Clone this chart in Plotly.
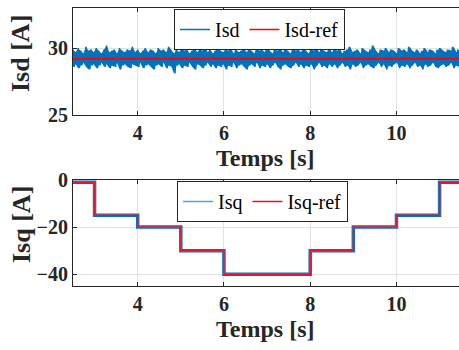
import numpy as np
import plotly.graph_objects as go

# Isd : envelope values (upper / lower peaks), A
isd_hi = [29.9, 29.7, 30.0, 29.8, 29.6, 30.1, 29.8, 29.9, 29.7, 30.0,
          29.8, 29.6, 29.9, 30.2, 29.7, 29.8, 29.9, 29.6, 30.0, 29.8,
          29.7, 29.9, 29.8, 30.1, 29.7, 29.9, 29.6, 29.8, 30.0, 29.7,
          29.9, 29.8, 29.6, 30.0, 29.8, 29.9, 29.7, 30.1, 29.8, 29.6,
          29.9, 29.7, 30.0, 29.8, 29.9, 29.6, 29.8, 30.0, 29.7, 29.9,
          29.8, 30.1, 29.7, 29.9, 29.6, 29.8, 30.2, 29.8, 29.7, 29.9,
          29.8, 30.0, 29.6, 29.9, 29.7, 29.8, 30.0, 29.7, 29.9, 29.8,
          29.6, 30.0, 29.8, 29.9, 29.7, 30.1, 29.8, 29.6, 29.9, 29.8,
          30.0, 29.7, 29.9, 29.8, 29.6, 30.0, 29.8, 29.9, 29.7, 30.0,
          29.8, 29.6, 29.9, 29.8, 30.1, 29.7, 29.9, 29.8, 29.7, 30.0,
          29.7, 29.9, 29.8, 30.0, 29.6, 29.8, 29.9, 30.1, 29.7, 29.8,
          29.9, 29.6, 30.0, 29.8, 29.7, 29.9, 30.2, 29.8, 29.6, 29.9,
          29.8, 30.0, 29.7, 29.9, 29.8, 29.6, 30.0, 29.8, 29.9, 29.7,
          30.1, 29.8, 29.7, 29.9, 29.6, 29.8, 30.0, 29.7, 29.9, 29.8,
          29.6, 29.9, 30.0, 29.8, 29.7, 29.9, 29.8, 30.1, 29.7, 29.9]
isd_lo = [28.6, 28.8, 28.5, 28.7, 28.9, 28.6, 28.4, 28.7, 28.8, 28.5,
          28.7, 28.9, 28.6, 28.8, 28.5, 28.7, 28.6, 28.9, 28.4, 28.7,
          28.8, 28.6, 28.5, 28.8, 28.7, 28.6, 28.9, 28.5, 28.7, 28.8,
          28.6, 28.4, 28.7, 28.8, 28.6, 28.9, 28.5, 28.7, 28.6, 28.1,
          28.7, 28.8, 28.5, 28.7, 28.6, 28.9, 28.6, 28.4, 28.8, 28.7,
          28.5, 28.7, 28.9, 28.6, 28.8, 28.5, 28.7, 28.6, 28.8, 28.4,
          28.7, 28.6, 28.9, 28.5, 28.7, 28.8, 28.6, 28.4, 28.7, 28.8,
          28.6, 28.9, 28.5, 28.7, 28.6, 28.8, 28.5, 28.7, 28.9, 28.6,
          28.4, 28.7, 28.8, 28.6, 28.5, 28.7, 28.9, 28.6, 28.8, 28.5,
          28.7, 28.6, 28.8, 28.4, 28.7, 28.9, 28.6, 28.7, 28.5, 28.8,
          28.6, 28.8, 28.5, 28.7, 28.9, 28.6, 28.7, 28.4, 28.8, 28.6,
          28.7, 28.9, 28.5, 28.7, 28.8, 28.6, 28.5, 28.7, 28.9, 28.6,
          28.8, 28.4, 28.7, 28.6, 28.8, 28.9, 28.5, 28.7, 28.6, 28.8,
          28.5, 28.7, 28.9, 28.6, 28.7, 28.4, 28.8, 28.6, 28.7, 28.9,
          28.6, 28.5, 28.7, 28.8, 28.6, 28.7, 28.9, 28.5, 28.7, 28.6]
isd_ref = 29.2

# Isq : reference steps
isq_t = [2.5, 3, 4, 5, 6, 8, 9, 10, 11, 11.45]
isq_ref = [-1, -15, -20, -30, -40, -30, -20, -15, -1, -1]

t_start, t_end = 2.5, 11.45

blue = "#0072BD"
red = "#FF0000"
dark = "#262626"
serif = "Liberation Serif"

# noisy Isd: alternate upper / lower peaks
isd = []
for hi, lo in zip(isd_hi, isd_lo):
    isd += [hi, lo]
t_isd = np.linspace(t_start, t_end, len(isd))
t_env = np.linspace(t_start, t_end, len(isd_hi))

fig = go.Figure()
# solid core of the noise band
fig.add_trace(go.Scatter(x=t_env, y=isd_lo, mode="lines", line=dict(width=0),
                         showlegend=False, hoverinfo="skip"))
fig.add_trace(go.Scatter(x=t_env, y=isd_hi, mode="lines", line=dict(width=0),
                         fill="tonexty", fillcolor=blue, showlegend=False,
                         hoverinfo="skip"))
fig.add_trace(go.Scatter(x=t_isd, y=isd, mode="lines", name="Isd",
                         line=dict(color=blue, width=1.5)))
fig.add_trace(go.Scatter(x=[t_start, t_end], y=[isd_ref, isd_ref], mode="lines",
                         name="Isd-ref", line=dict(color=red, width=1.5)))
# thick measured Isq under the reference
fig.add_trace(go.Scatter(x=isq_t, y=isq_ref, mode="lines", showlegend=False,
                         line=dict(color=blue, width=3.5, shape="hv"),
                         xaxis="x2", yaxis="y2", hoverinfo="skip"))
fig.add_trace(go.Scatter(x=isq_t, y=isq_ref, mode="lines", name="Isq",
                         line=dict(color="#4DA3DD", width=1.5, shape="hv"),
                         xaxis="x2", yaxis="y2", legend="legend2"))
fig.add_trace(go.Scatter(x=isq_t, y=isq_ref, mode="lines", name="Isq-ref",
                         line=dict(color="#E8112D", width=1.5, shape="hv"),
                         xaxis="x2", yaxis="y2", legend="legend2"))

tickf = dict(family=serif, size=20, color=dark, weight="bold")
titlef = dict(family=serif, size=24, color=dark, weight="bold")
ytitlef = dict(family=serif, size=26, color=dark, weight="bold")
x0 = 73 / 459

xcommon = dict(range=[t_start, t_end], tickvals=[4, 6, 8, 10], ticks="inside",
               ticklen=4, tickcolor=dark, showline=True, linecolor=dark,
               linewidth=1, mirror="ticks", showgrid=True, gridcolor="#e3e3e3",
               zeroline=False, tickfont=tickf, automargin=False)
ycommon = dict(ticks="inside", ticklen=4, tickcolor=dark, showline=True,
               linecolor=dark, linewidth=1, showgrid=True, gridcolor="#e3e3e3",
               zeroline=False, tickfont=tickf, automargin=False)

legf = dict(family=serif, size=20, color="black")


def px_x(p):
    return p / 459


def px_y(p):
    return 1 - p / 350


titles = [
    dict(text="Isd [A]", x=px_x(21), y=px_y(54), textangle=-90, font=ytitlef),
    dict(text="Isq [A]", x=px_x(21), y=px_y(225), textangle=-90, font=ytitlef),
    dict(text="Temps [s]", x=px_x(265), y=px_y(158), textangle=0, font=titlef),
    dict(text="Temps [s]", x=px_x(265), y=px_y(329), textangle=0, font=titlef),
]
annotations = [dict(xref="paper", yref="paper", showarrow=False,
                    xanchor="center", yanchor="middle", **a) for a in titles]

fig.update_layout(
    width=459, height=350,
    margin=dict(l=0, r=0, t=0, b=0, autoexpand=False),
    paper_bgcolor="white", plot_bgcolor="white",
    xaxis=dict(domain=[x0, 1], anchor="y", **xcommon),
    yaxis=dict(domain=[px_y(115), px_y(8)], anchor="x", range=[25, 33],
               tickvals=[25, 30], **ycommon),
    xaxis2=dict(domain=[x0, 1], anchor="y2", **xcommon),
    yaxis2=dict(domain=[px_y(286), px_y(180)], anchor="x2", range=[-45, 0],
                tickvals=[-40, -20, 0], **ycommon),
    legend=dict(orientation="h", x=px_x(174), y=px_y(9), xanchor="left",
                yanchor="top", bgcolor="white", bordercolor=dark, borderwidth=1,
                font=legf, traceorder="normal"),
    legend2=dict(orientation="h", x=px_x(177), y=px_y(181), xanchor="left",
                 yanchor="top", bgcolor="white", bordercolor=dark, borderwidth=1,
                 font=legf, traceorder="normal"),
    annotations=annotations,
    showlegend=True,
)

fig.write_html("out.html", config={"displayModeBar": False},
               post_script="document.body.style.margin='0';")
